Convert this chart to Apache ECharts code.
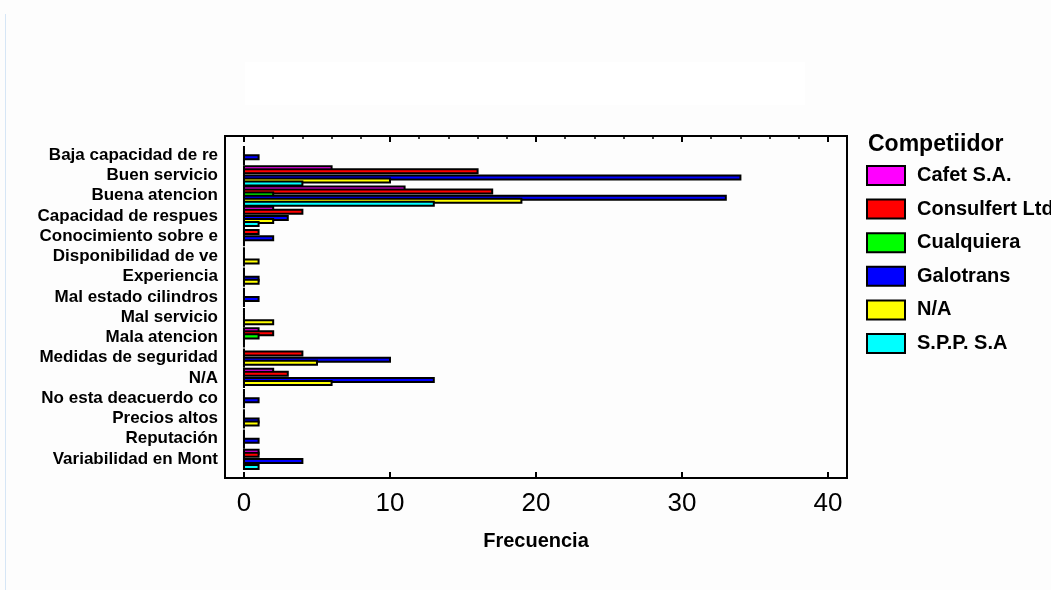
<!DOCTYPE html>
<html>
<head>
<meta charset="utf-8">
<script src="https://cdn.jsdelivr.net/npm/echarts@6/dist/echarts.min.js"></script>
<style>
  html, body { margin: 0; padding: 0; background: #fdfdfd; }
  #chart { width: 1051px; height: 590px; }
</style>
</head>
<body>
<div id="chart"></div>
<script>
// Motivos (categorías) en el orden de arriba hacia abajo
const categories = [
  'Baja capacidad de re', 'Buen servicio', 'Buena atencion', 'Capacidad de respues',
  'Conocimiento sobre e', 'Disponibilidad de ve', 'Experiencia', 'Mal estado cilindros',
  'Mal servicio', 'Mala atencion', 'Medidas de seguridad', 'N/A',
  'No esta deacuerdo co', 'Precios altos', 'Reputación', 'Variabilidad en Mont'
];

// Frecuencia por competidor
const cafet      = [0, 6, 11, 2, 0, 0, 0, 0, 0, 1, 0, 2, 0, 0, 0, 1];
const consulfert = [0, 16, 17, 4, 1, 0, 0, 0, 0, 2, 4, 3, 0, 0, 0, 1];
const cualquiera = [0, 0, 2, 0, 0, 0, 0, 0, 0, 1, 0, 0, 0, 0, 0, 0];
const galotrans  = [1, 34, 33, 3, 2, 0, 1, 1, 0, 0, 10, 13, 1, 1, 1, 4];
const noAplica   = [0, 10, 19, 2, 0, 1, 1, 0, 2, 0, 5, 6, 0, 1, 0, 0];
const spp        = [0, 4, 13, 1, 0, 0, 0, 0, 0, 0, 0, 0, 0, 0, 0, 1];

const seriesNames  = ['Cafet S.A.', 'Consulfert Ltda', 'Cualquiera', 'Galotrans', 'N/A', 'S.P.P. S.A'];
const seriesValues = [cafet, consulfert, cualquiera, galotrans, noAplica, spp];
const seriesColors = ['#ff00ff', '#ff0000', '#00ff00', '#0000ff', '#ffff00', '#00ffff'];

const majorTicks = [0, 10, 20, 30, 40];
const minorTicks = [0, 2, 4, 6, 8, 10, 12, 14, 16, 18, 20, 22, 24, 26, 28, 30, 32, 34, 36, 38, 40];

const X_MIN = -1.3, X_MAX = 41.3;
const FONT = '"Liberation Sans", Arial, sans-serif';

// Share of each category band used by the grouped bars
const GROUP_SHARE = 0.9;

// Grouped horizontal bars with a heavy outline; neighbouring bars overlap
// slightly and later ones sit on top.
function groupedBar(slot, count, color) {
  return function (params, api) {
    const value = api.value(0);
    const cat = api.value(1);
    const start = api.coord([0, cat]);
    const end = api.coord([value, cat]);
    const band = api.size([0, 1])[1];
    const slotH = band * GROUP_SHARE / count;
    const top = start[1] - band * GROUP_SHARE / 2 + slot * slotH;
    return {
      type: 'rect',
      shape: { x: start[0], y: top, width: end[0] - start[0], height: slotH + 1 },
      style: { fill: color, stroke: '#000', lineWidth: 2 }
    };
  };
}

const chart = echarts.init(document.getElementById('chart'));

const option = {
  animation: false,
  backgroundColor: '#fdfdfd',
  title: {
    text: 'Competiidor',
    left: 868, top: 133, padding: 0,
    textStyle: { fontFamily: FONT, fontWeight: 'bold', fontSize: 23, color: '#000' }
  },
  legend: {
    data: seriesNames,
    orient: 'vertical',
    left: 866, top: 165, padding: 0,
    icon: 'rect',
    itemWidth: 38, itemHeight: 19, itemGap: 12.6,
    itemStyle: { borderColor: '#000', borderWidth: 2 },
    textStyle: { fontFamily: FONT, fontWeight: 'bold', fontSize: 20, color: '#000', padding: [0, 0, 0, 7] }
  },
  grid: [
    // bar area
    { left: 225, right: 204, top: 145, bottom: 121, containLabel: false },
    // frame around the plot
    { left: 225, right: 204, top: 136, bottom: 112, show: true, borderColor: '#000', borderWidth: 2, backgroundColor: 'transparent' }
  ],
  xAxis: [
    { gridIndex: 0, type: 'value', min: X_MIN, max: X_MAX, show: false },
    {
      gridIndex: 1, type: 'value', position: 'bottom', min: X_MIN, max: X_MAX,
      axisLine: { show: false },
      splitLine: { show: false },
      axisTick: { show: true, inside: true, length: 6, customValues: majorTicks, lineStyle: { color: '#000', width: 2 } },
      axisLabel: { show: true, customValues: majorTicks, margin: 13, fontFamily: FONT, fontSize: 26, color: '#000' },
      name: 'Frecuencia', nameLocation: 'middle', nameGap: 53,
      nameTextStyle: { fontFamily: FONT, fontWeight: 'bold', fontSize: 20, color: '#000' }
    },
    {
      gridIndex: 1, type: 'value', position: 'top', min: X_MIN, max: X_MAX,
      axisLine: { show: false }, splitLine: { show: false }, axisLabel: { show: false },
      axisTick: { show: true, inside: true, length: 3, customValues: minorTicks, lineStyle: { color: '#000', width: 1.5 } }
    },
    {
      gridIndex: 1, type: 'value', position: 'top', min: X_MIN, max: X_MAX,
      axisLine: { show: false }, splitLine: { show: false }, axisLabel: { show: false },
      axisTick: { show: true, inside: true, length: 6, customValues: majorTicks, lineStyle: { color: '#000', width: 2 } }
    }
  ],
  yAxis: [
    {
      gridIndex: 0, type: 'category', data: categories, inverse: true,
      axisLine: { show: false }, axisTick: { show: false }, splitLine: { show: false },
      axisLabel: { interval: 0, margin: 7, fontFamily: FONT, fontWeight: 'bold', fontSize: 17, color: '#000' }
    },
    { gridIndex: 1, type: 'value', show: false }
  ],
  series: seriesNames.map((name, i) => ({
    name: name,
    type: 'custom',
    xAxisIndex: 0, yAxisIndex: 0,
    encode: { x: 0, y: 1 },
    data: seriesValues[i].map((v, k) => [v, k]),
    itemStyle: { color: seriesColors[i] },
    renderItem: groupedBar(i, seriesNames.length, seriesColors[i])
  })),
  graphic: [
    { type: 'line', z: -1, shape: { x1: 5.5, y1: 14, x2: 5.5, y2: 590 }, style: { stroke: '#d6e6f6', lineWidth: 1 } },
    { type: 'rect', z: -1, shape: { x: 245, y: 62, width: 560, height: 43 }, style: { fill: '#ffffff' } }
  ]
};

chart.setOption(option);
</script>
</body>
</html>
